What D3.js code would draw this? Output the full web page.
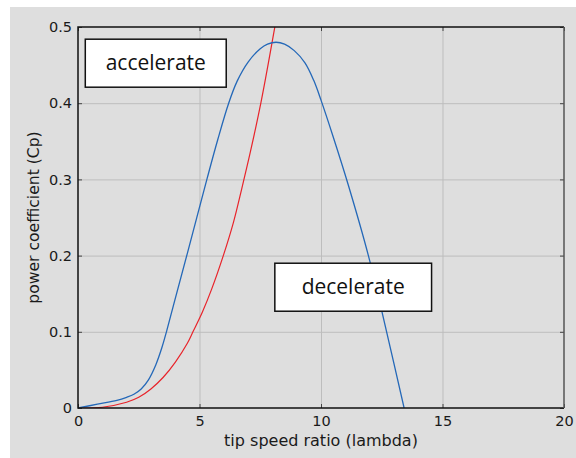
<!DOCTYPE html>
<html>
<head>
<meta charset="utf-8">
<script src="https://cdn.jsdelivr.net/npm/d3@7"></script>
<style>
  body { margin: 0; background: #fff; }
  .axis text { font-family: 'DejaVu Sans', sans-serif; font-size: 14.5px; fill: #1a1a1a; }
</style>
</head>
<body>
<div id="chart"></div>
<script>
// tip speed ratio vs power coefficient
const bladeLambda = [0, 0.8, 1.6, 2.0, 2.3, 2.6, 2.9, 3.2, 3.45, 3.64, 3.98, 4.5, 5.32, 5.75, 6.2, 6.55, 7.0, 7.5, 7.8, 8.15, 8.5, 8.9, 9.34, 9.7, 10.0, 10.5, 11.12, 11.95, 12.7, 13.42];
const bladeCp = [0, 0.005, 0.01, 0.014, 0.018, 0.025, 0.037, 0.0565, 0.079, 0.1, 0.141, 0.203, 0.302, 0.352, 0.4, 0.429, 0.454, 0.4715, 0.4775, 0.48, 0.4775, 0.469, 0.453, 0.43, 0.404, 0.356, 0.293, 0.2, 0.1, 0];

const torqueLambda = [0, 1, 2, 2.5, 3, 3.5, 4, 4.5, 4.73, 5.12, 5.5, 5.98, 6.4, 6.74, 7.1, 7.53, 8.1, 8.25];
const torqueCp = [0, 0.001, 0.0075, 0.014, 0.025, 0.04, 0.06, 0.085, 0.1, 0.126, 0.156, 0.2, 0.244, 0.288, 0.337, 0.401, 0.5, 0.528];

const xTicks = [0, 5, 10, 15, 20];
const yTicks = [0, 0.1, 0.2, 0.3, 0.4, 0.5];

const notes = [
  { text: 'accelerate', x: 0.3, y: 0.484, x2: 6.1, y2: 0.421 },
  { text: 'decelerate', x: 8.1, y: 0.19, x2: 14.55, y2: 0.127 },
];

const width = 576;
const height = 458;
const margin = { top: 27, right: 12, bottom: 50, left: 78 };

const svg = d3.select('#chart')
  .append('svg')
  .attr('width', width)
  .attr('height', height);

svg.append('rect')
  .attr('x', 10)
  .attr('y', 7)
  .attr('width', width - 10)
  .attr('height', height - 7)
  .attr('fill', '#dedede');

const xCoord = d3.scaleLinear().domain([0, 20]).range([margin.left, width - margin.right]);
const yCoord = d3.scaleLinear().domain([0, 0.5]).range([height - margin.bottom, margin.top]);

const [x0, x1] = xCoord.range();
const [y0, y1] = yCoord.range();

// grid
const grid = svg.append('g').attr('stroke', '#bdbdbd').attr('stroke-width', 1);
grid.selectAll('.gx').data(xTicks.slice(1, -1)).join('line')
  .attr('x1', d => xCoord(d) + 0.5).attr('x2', d => xCoord(d) + 0.5)
  .attr('y1', y1).attr('y2', y0);
grid.selectAll('.gy').data(yTicks.slice(1, -1)).join('line')
  .attr('x1', x0).attr('x2', x1)
  .attr('y1', d => yCoord(d) + 0.5).attr('y2', d => yCoord(d) + 0.5);

// curves
svg.append('clipPath').attr('id', 'plotClip')
  .append('rect')
  .attr('x', x0).attr('y', y1)
  .attr('width', x1 - x0).attr('height', y0 - y1);

const line = d3.line()
  .x(d => xCoord(d[0]))
  .y(d => yCoord(d[1]))
  .curve(d3.curveCatmullRom.alpha(0.5));

const plot = svg.append('g').attr('clip-path', 'url(#plotClip)');

plot.append('path')
  .datum(d3.zip(torqueLambda, torqueCp))
  .attr('fill', 'none')
  .attr('stroke', '#e8232a')
  .attr('stroke-width', 1.2)
  .attr('d', line);

plot.append('path')
  .datum(d3.zip(bladeLambda, bladeCp))
  .attr('fill', 'none')
  .attr('stroke', '#2468b8')
  .attr('stroke-width', 1.3)
  .attr('d', line);

// axes
const xAxis = d3.axisBottom(xCoord).tickValues(xTicks).tickSize(-4).tickPadding(8).tickFormat(d3.format('d'));
const yAxis = d3.axisLeft(yCoord).tickValues(yTicks).tickSize(-4).tickPadding(6).tickFormat(d => d === 0 ? '0' : d3.format('.1f')(d));

svg.append('g')
  .attr('class', 'axis axis--x')
  .attr('transform', `translate(0, ${y0})`)
  .call(xAxis)
  .call(g => g.select('.domain').remove())
  .call(g => g.selectAll('.tick line').attr('stroke', '#444'));

svg.append('g')
  .attr('class', 'axis axis--y')
  .attr('transform', `translate(${x0}, 0)`)
  .call(yAxis)
  .call(g => g.select('.domain').remove())
  .call(g => g.selectAll('.tick line').attr('stroke', '#444'));

svg.append('g')
  .attr('transform', `translate(0, ${y1})`)
  .call(d3.axisTop(xCoord).tickValues(xTicks).tickSize(-4).tickFormat(''))
  .call(g => g.select('.domain').remove())
  .call(g => g.selectAll('.tick line').attr('stroke', '#444'));

svg.append('g')
  .attr('transform', `translate(${x1}, 0)`)
  .call(d3.axisRight(yCoord).tickValues(yTicks).tickSize(-4).tickFormat(''))
  .call(g => g.select('.domain').remove())
  .call(g => g.selectAll('.tick line').attr('stroke', '#444'));

// frame
svg.append('path')
  .attr('d', `M${x1},${y1}H${x0}V${y0}H${x1}`)
  .attr('fill', 'none')
  .attr('stroke', '#111')
  .attr('stroke-width', 1.5);
svg.append('line')
  .attr('x1', x1).attr('x2', x1)
  .attr('y1', y1).attr('y2', y0)
  .attr('stroke', '#555')
  .attr('stroke-width', 1.5);

svg.append('text')
  .attr('x', (x0 + x1) / 2)
  .attr('y', 446)
  .attr('text-anchor', 'middle')
  .attr('font-family', 'DejaVu Sans, sans-serif')
  .attr('font-size', 16)
  .attr('fill', '#1a1a1a')
  .text('tip speed ratio (lambda)');

svg.append('text')
  .attr('transform', `translate(39, ${(y0 + y1) / 2}) rotate(-90)`)
  .attr('text-anchor', 'middle')
  .attr('font-family', 'DejaVu Sans, sans-serif')
  .attr('font-size', 15.6)
  .attr('fill', '#1a1a1a')
  .text('power coefficient (Cp)');

// annotation boxes
const boxes = svg.append('g').selectAll('g').data(notes).join('g');

boxes.append('rect')
  .attr('x', d => xCoord(d.x))
  .attr('y', d => yCoord(d.y))
  .attr('width', d => xCoord(d.x2) - xCoord(d.x))
  .attr('height', d => yCoord(d.y2) - yCoord(d.y))
  .attr('fill', '#fff')
  .attr('stroke', '#111')
  .attr('stroke-width', 1.5);

boxes.append('text')
  .attr('x', d => (xCoord(d.x) + xCoord(d.x2)) / 2)
  .attr('y', d => (yCoord(d.y) + yCoord(d.y2)) / 2 + 7)
  .attr('text-anchor', 'middle')
  .attr('font-family', 'Open Sans, sans-serif')
  .attr('font-size', 21)
  .attr('fill', '#111')
  .text(d => d.text);
</script>
</body>
</html>
